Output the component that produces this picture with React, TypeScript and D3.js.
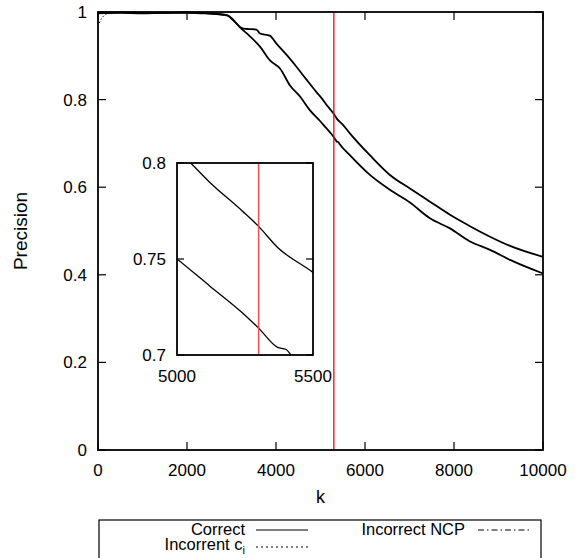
import React, { useEffect, useRef } from 'react';
import * as d3 from 'd3';

// Correct (upper curve)
const kCorrect = [0, 500, 1000, 1500, 2000, 2300, 2600, 2900, 3040, 3190, 3270, 3400, 3560, 3640, 3860, 4010, 4240, 4460, 4690, 4910, 5050, 5120, 5240, 5300, 5370, 5500, 5660, 6110, 6560, 7010, 7460, 7910, 8360, 8810, 9260, 10000];
const pCorrect = [0.997, 0.998, 0.997, 0.998, 0.998, 0.997, 0.996, 0.993, 0.982, 0.966, 0.962, 0.961, 0.960, 0.951, 0.946, 0.928, 0.902, 0.875, 0.845, 0.817, 0.800, 0.790, 0.775, 0.767, 0.756, 0.743, 0.723, 0.673, 0.628, 0.597, 0.567, 0.537, 0.511, 0.487, 0.466, 0.441];

// Incorrect NCP (lower curve)
const kNcp = [0, 500, 1000, 1500, 2000, 2300, 2600, 2900, 3040, 3190, 3420, 3640, 3860, 4090, 4310, 4540, 4760, 5000, 5120, 5240, 5300, 5370, 5400, 5420, 5660, 6110, 6560, 7010, 7460, 7910, 8360, 8810, 9260, 10000];
const pNcp = [0.998, 0.999, 0.998, 0.998, 0.999, 0.998, 0.996, 0.992, 0.981, 0.965, 0.944, 0.921, 0.890, 0.871, 0.833, 0.807, 0.776, 0.750, 0.736, 0.722, 0.714, 0.704, 0.703, 0.700, 0.673, 0.628, 0.594, 0.565, 0.529, 0.506, 0.476, 0.457, 0.434, 0.403];

// Incorrent c_i (only visible near the origin)
const kCi = [30, 80, 150, 250];
const pCi = [0.975, 0.985, 0.993, 0.998];

const xTicks = [0, 2000, 4000, 6000, 8000, 10000];
const yTicks = [0, 0.2, 0.4, 0.6, 0.8, 1];
const insetXTicks = [5000, 5500];
const insetYTicks = [0.7, 0.75, 0.8];
const cutoff = 5300;

const font = 'Liberation Sans, Arial, sans-serif';

const App = () => {
  const svgRef = useRef(null);

  useEffect(() => {
    const svg = d3.select(svgRef.current);
    svg.selectAll('*').remove();

    const toPts = (ks: number[], ps: number[]) => ks.map((k, i) => ({ x: k, y: ps[i] }));
    const correct = toPts(kCorrect, pCorrect);
    const ncp = toPts(kNcp, pNcp);
    const ci = toPts(kCi, pCi);

    const x = d3.scaleLinear().domain([0, 10000]).range([98, 543]);
    const y = d3.scaleLinear().domain([0, 1]).range([450, 12]);

    const line = d3.line<any>().curve(d3.curveMonotoneX).x((d) => x(d.x)).y((d) => y(d.y));

    // curves
    svg.append('path').datum(ncp).attr('fill', 'none').attr('stroke', '#000').attr('stroke-width', 1.8).attr('d', line);
    svg.append('path').datum(correct).attr('fill', 'none').attr('stroke', '#000').attr('stroke-width', 1.8).attr('d', line);
    svg.append('path').datum(ci).attr('fill', 'none').attr('stroke', '#000').attr('stroke-width', 1)
      .attr('stroke-dasharray', '1.5,2').attr('d', line);

    // cutoff line
    svg.append('line')
      .attr('x1', x(cutoff)).attr('x2', x(cutoff))
      .attr('y1', y(0)).attr('y2', y(1))
      .attr('stroke', 'red').attr('stroke-width', 1.3);

    // frame
    svg.append('rect')
      .attr('x', x(0)).attr('y', y(1))
      .attr('width', x(10000) - x(0)).attr('height', y(0) - y(1))
      .attr('fill', 'none').attr('stroke', '#000').attr('stroke-width', 1.8);

    // ticks (mirrored)
    xTicks.forEach((t) => {
      svg.append('line').attr('x1', x(t)).attr('x2', x(t)).attr('y1', y(0)).attr('y2', y(0) - 8).attr('stroke', '#000').attr('stroke-width', 1.2);
      svg.append('line').attr('x1', x(t)).attr('x2', x(t)).attr('y1', y(1)).attr('y2', y(1) + 8).attr('stroke', '#000').attr('stroke-width', 1.2);
      svg.append('text').attr('x', x(t)).attr('y', 476).attr('text-anchor', 'middle')
        .attr('font-family', font).attr('font-size', 17).text(t);
    });
    yTicks.forEach((t) => {
      svg.append('line').attr('x1', x(0)).attr('x2', x(0) + 8).attr('y1', y(t)).attr('y2', y(t)).attr('stroke', '#000').attr('stroke-width', 1.2);
      svg.append('line').attr('x1', x(10000)).attr('x2', x(10000) - 8).attr('y1', y(t)).attr('y2', y(t)).attr('stroke', '#000').attr('stroke-width', 1.2);
      svg.append('text').attr('x', 87).attr('y', y(t) + 6).attr('text-anchor', 'end')
        .attr('font-family', font).attr('font-size', 17).text(t);
    });

    // axis labels
    svg.append('text').attr('x', (x(0) + x(10000)) / 2).attr('y', 503).attr('text-anchor', 'middle')
      .attr('font-family', font).attr('font-size', 18).text('k');
    svg.append('text').attr('transform', `translate(27,${(y(0) + y(1)) / 2}) rotate(-90)`)
      .attr('text-anchor', 'middle').attr('font-family', font).attr('font-size', 19).text('Precision');

    // inset
    const ix = d3.scaleLinear().domain([5000, 5500]).range([177, 313]);
    const iy = d3.scaleLinear().domain([0.7, 0.8]).range([355, 163]);
    const iline = d3.line<any>().curve(d3.curveMonotoneX).x((d) => ix(d.x)).y((d) => iy(d.y));

    svg.append('rect').attr('x', 177).attr('y', 163).attr('width', 136).attr('height', 192).attr('fill', '#fff');
    svg.append('clipPath').attr('id', 'inset-clip')
      .append('rect').attr('x', 177).attr('y', 163).attr('width', 136).attr('height', 192);

    const ig = svg.append('g').attr('clip-path', 'url(#inset-clip)');
    ig.append('path').datum(correct).attr('fill', 'none').attr('stroke', '#000').attr('stroke-width', 1.3).attr('d', iline);
    ig.append('path').datum(ncp).attr('fill', 'none').attr('stroke', '#000').attr('stroke-width', 1.3).attr('d', iline);
    ig.append('line').attr('x1', ix(cutoff)).attr('x2', ix(cutoff)).attr('y1', iy(0.7)).attr('y2', iy(0.8))
      .attr('stroke', '#f05050').attr('stroke-width', 1.5);

    svg.append('rect').attr('x', 177).attr('y', 163).attr('width', 136).attr('height', 192)
      .attr('fill', 'none').attr('stroke', '#000').attr('stroke-width', 1.8);

    insetYTicks.forEach((t) => {
      svg.append('line').attr('x1', 177).attr('x2', 184).attr('y1', iy(t)).attr('y2', iy(t)).attr('stroke', '#000').attr('stroke-width', 1.2);
      svg.append('line').attr('x1', 313).attr('x2', 306).attr('y1', iy(t)).attr('y2', iy(t)).attr('stroke', '#000').attr('stroke-width', 1.2);
      svg.append('text').attr('x', 166).attr('y', iy(t) + 6).attr('text-anchor', 'end')
        .attr('font-family', font).attr('font-size', 17).text(t);
    });
    insetXTicks.forEach((t) => {
      svg.append('text').attr('x', ix(t)).attr('y', 382).attr('text-anchor', 'middle')
        .attr('font-family', font).attr('font-size', 17).text(t);
    });

    // legend (box runs off the bottom of the picture, as in the original)
    svg.append('rect').attr('x', 99).attr('y', 520).attr('width', 442).attr('height', 42)
      .attr('fill', 'none').attr('stroke', '#000').attr('stroke-width', 1.2);
    svg.append('text').attr('x', 245).attr('y', 535).attr('text-anchor', 'end')
      .attr('font-family', font).attr('font-size', 16.5).text('Correct');
    svg.append('line').attr('x1', 256).attr('x2', 308).attr('y1', 530).attr('y2', 530).attr('stroke', '#000').attr('stroke-width', 1.2);
    svg.append('text').attr('x', 465).attr('y', 535).attr('text-anchor', 'end')
      .attr('font-family', font).attr('font-size', 16.5).text('Incorrect NCP');
    svg.append('line').attr('x1', 478).attr('x2', 530).attr('y1', 530).attr('y2', 530).attr('stroke', '#000').attr('stroke-width', 1)
      .attr('stroke-dasharray', '6,3,1.5,3');
    const t2 = svg.append('text').attr('x', 245).attr('y', 550).attr('text-anchor', 'end')
      .attr('font-family', font).attr('font-size', 16.5);
    t2.append('tspan').text('Incorrent c');
    t2.append('tspan').attr('dy', 4).attr('font-size', 11).text('i');
    svg.append('line').attr('x1', 256).attr('x2', 308).attr('y1', 547).attr('y2', 547).attr('stroke', '#000').attr('stroke-width', 1)
      .attr('stroke-dasharray', '2,3');
  }, []);

  return (
    <svg ref={svgRef} width={585} height={558} style={{ position: 'absolute', left: 0, top: 0, background: '#fff' }}></svg>
  );
};

export default App;
